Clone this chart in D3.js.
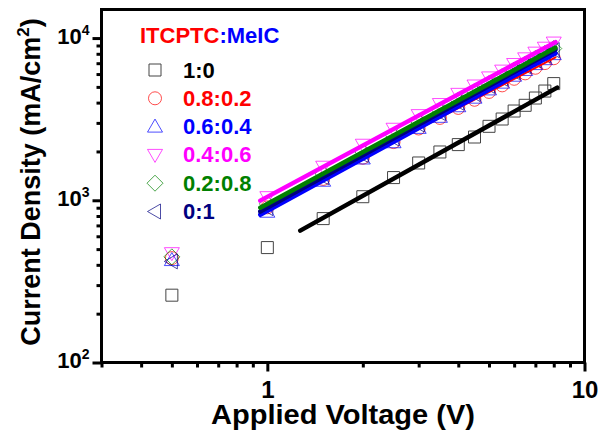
<!DOCTYPE html>
<html>
<head>
<meta charset="utf-8">
<script src="https://cdn.jsdelivr.net/npm/d3@7"></script>
<style>
  body { margin: 0; background: #fff; }
  text { font-family: "Liberation Sans", Arial, sans-serif; font-weight: bold; }
</style>
</head>
<body>
<div id="chart"></div>
<script>
// du lieu doc tu hinh
var voltage = [0.5, 1, 1.5, 2, 2.5, 3, 3.5, 4, 4.5, 5, 5.5, 6, 6.5, 7, 7.5, 8];

var j_1_0     = [260, 511, 771, 1052, 1380, 1698, 1985, 2204, 2455, 2857, 3170, 3550, 3850, 4270, 4715, 5240];
var j_08_02   = [440, 905, 1355, 1830, 2285, 2770, 3220, 3710, 4165, 4655, 5110, 5610, 6060, 6560, 7010, 7510];
var j_06_04   = [428, 850, 1320, 1810, 2280, 2795, 3270, 3800, 4290, 4825, 5310, 5860, 6360, 6910, 7410, 7960];
var j_04_06   = [472, 1045, 1610, 2200, 2760, 3350, 3920, 4530, 5100, 5720, 6300, 6920, 7500, 8130, 8720, 9380];
var j_02_08   = [448, 950, 1455, 1985, 2500, 3050, 3575, 4140, 4670, 5240, 5780, 6355, 6900, 7480, 8040, 8620];
var j_0_1     = [420, 895, 1385, 1900, 2400, 2935, 3450, 3995, 4520, 5075, 5610, 6170, 6715, 7280, 7830, 8420];

// duong fit: [V, J] dau va cuoi
var fit_1_0   = [[1.27, 650], [8.2, 4950]];
var fit_08_02 = [[0.95, 854], [8.1, 7600]];
var fit_06_04 = [[0.95, 814], [8.1, 8065]];
var fit_04_06 = [[0.95, 995], [8.1, 9440]];
var fit_02_08 = [[0.95, 900], [8.1, 8720]];
var fit_0_1   = [[0.95, 852], [8.1, 8510]];

var seriesNames  = ["1:0", "0.8:0.2", "0.6:0.4", "0.4:0.6", "0.2:0.8", "0:1"];
var seriesColors = ["#000000", "#ff0000", "#0000ff", "#ff00ff", "#008000", "#000080"];
var seriesShapes = ["square", "circle", "up", "down", "diamond", "left"];
var seriesData   = [j_1_0, j_08_02, j_06_04, j_04_06, j_02_08, j_0_1];
var seriesFits   = [fit_1_0, fit_08_02, fit_06_04, fit_04_06, fit_02_08, fit_0_1];
var fitOrder     = [0, 1, 2, 5, 4, 3];

var xMajor = [1, 10];
var xMinor = [0.3, 0.4, 0.5, 0.6, 0.7, 0.8, 0.9, 2, 3, 4, 5, 6, 7, 8, 9];
var yMajor = [100, 1000, 10000];
var yMinor = [200, 300, 400, 500, 600, 700, 800, 900, 2000, 3000, 4000, 5000, 6000, 7000, 8000, 9000];

var margin = { top: 9.5, right: 13.5, bottom: 71.5, left: 101.5 },
    width  = 598 - margin.left - margin.right,
    height = 434 - margin.top - margin.bottom;

var svg = d3.select("#chart").append("svg")
            .attr("width", 598)
            .attr("height", 434)
            .append("g")
            .attr("transform", `translate(${margin.left},${margin.top})`);

var x = d3.scaleLog().domain([0.3, 10]).range([0, width]);
var y = d3.scaleLog().domain([100, 15000]).range([height, 0]);

function markerPath(shape) {
  if (shape === "square") return "M-6,-6H6V6H-6Z";
  if (shape === "up") return "M0,-7.5L7.5,5.5L-7.5,5.5Z";
  if (shape === "down") return "M0,7.5L7.5,-5.5L-7.5,-5.5Z";
  if (shape === "left") return "M-7.5,0L5.5,-7.5L5.5,7.5Z";
  if (shape === "diamond") return "M0,-8L8,0L0,8L-8,0Z";
  return "M6.5,0A6.5,6.5 0 1,1 -6.5,0A6.5,6.5 0 1,1 6.5,0Z";
}

// diem du lieu
seriesData.forEach(function(vals, i) {
  svg.selectAll(".pt" + i)
     .data(vals)
     .enter().append("path")
     .attr("class", "pt" + i)
     .attr("transform", (d, k) => `translate(${x(voltage[k])},${y(d)})`)
     .attr("d", markerPath(seriesShapes[i]))
     .attr("fill", "none")
     .attr("stroke", i === 0 ? "#444" : seriesColors[i])
     .attr("stroke-opacity", i === 0 ? 1 : 0.7)
     .attr("stroke-width", 1);
});

// duong fit
var line = d3.line().x(d => x(d[0])).y(d => y(d[1]));
fitOrder.forEach(function(i) {
  svg.append("path")
     .attr("d", line(seriesFits[i]))
     .attr("fill", "none")
     .attr("stroke", seriesColors[i])
     .attr("stroke-width", i === 1 ? 2 : 4.5)
     .attr("stroke-linecap", "round");
});

// truc X
svg.append("g")
   .attr("transform", `translate(0,${height})`)
   .call(d3.axisBottom(x).tickValues(xMinor).tickSize(5).tickFormat(""))
   .call(g => g.select(".domain").remove())
   .call(g => g.selectAll("line").attr("stroke-width", 3));
svg.append("g")
   .attr("transform", `translate(0,${height})`)
   .call(d3.axisBottom(x).tickValues(xMajor).tickSize(9).tickFormat(d3.format("d")))
   .call(g => g.select(".domain").remove())
   .call(g => g.selectAll("line").attr("stroke-width", 3))
   .call(g => g.selectAll("text").attr("y", 35).attr("dy", 0)
                .style("font-size", "24px").attr("fill", "#000"));

// truc Y
svg.append("g")
   .call(d3.axisLeft(y).tickValues(yMinor).tickSize(5).tickFormat(""))
   .call(g => g.select(".domain").remove())
   .call(g => g.selectAll("line").attr("stroke-width", 3));
var yAxis = svg.append("g")
   .call(d3.axisLeft(y).tickValues(yMajor).tickSize(9).tickFormat(""))
   .call(g => g.select(".domain").remove())
   .call(g => g.selectAll("line").attr("stroke-width", 3));
yAxis.selectAll(".tick text").remove();
var yLab = yAxis.selectAll(".tick").append("text")
   .attr("x", -12).attr("y", 5)
   .attr("text-anchor", "end")
   .attr("fill", "#000")
   .style("font-size", "22px");
yLab.append("tspan").text("10");
yLab.append("tspan").attr("dy", -9).style("font-size", "14px").text(d => Math.round(Math.log10(d)));

// khung
svg.append("rect")
   .attr("width", width).attr("height", height)
   .attr("fill", "none").attr("stroke", "#000").attr("stroke-width", 3);

// nhan truc
svg.append("text")
   .attr("x", x(Math.sqrt(0.3 * 10)) ).attr("y", 424 - margin.top)
   .attr("text-anchor", "middle")
   .attr("textLength", 264).attr("lengthAdjust", "spacingAndGlyphs")
   .style("font-size", "27px")
   .text("Applied Voltage (V)");

var yTitle = svg.append("text")
   .attr("transform", `translate(${40 - margin.left},${height / 2 - 4}) rotate(-90)`)
   .attr("text-anchor", "middle")
   .style("font-size", "27px");
yTitle.append("tspan").text("Current Density (mA/cm");
yTitle.append("tspan").attr("dy", -11).style("font-size", "17px").text("2");
yTitle.append("tspan").attr("dy", 11).text(")");

// chu giai
var legTitle = svg.append("text")
   .attr("x", 140 - margin.left).attr("y", 42.7 - margin.top)
   .style("font-size", "22px");
legTitle.append("tspan").attr("fill", "#ff0000").text("ITCPTC");
legTitle.append("tspan").attr("fill", "#0000ff").text(":MeIC");

var leg = svg.selectAll(".leg")
   .data(seriesNames)
   .enter().append("g")
   .attr("class", "leg")
   .attr("transform", (d, i) => `translate(${155 - margin.left},${70 + i * 28.3 - margin.top})`);
leg.append("path")
   .attr("d", (d, i) => markerPath(seriesShapes[i]))
   .attr("fill", "none")
   .attr("stroke", (d, i) => i === 0 ? "#444" : seriesColors[i])
   .attr("stroke-opacity", (d, i) => i === 0 ? 1 : 0.7)
   .attr("stroke-width", 1);
leg.append("text")
   .attr("x", 28).attr("y", 7.5)
   .attr("fill", (d, i) => seriesColors[i])
   .style("font-size", "22px")
   .text(d => d);
</script>
</body>
</html>
